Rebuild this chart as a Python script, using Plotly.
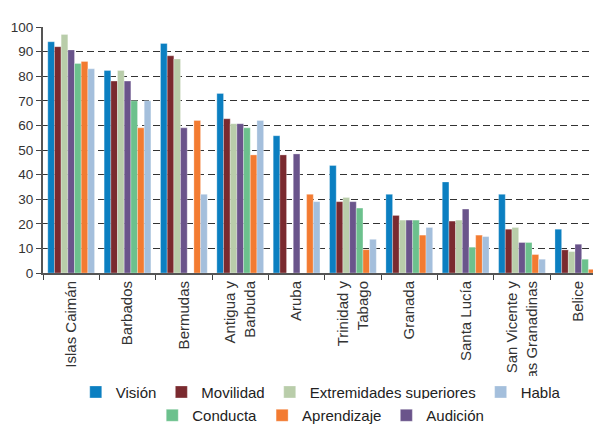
import plotly.graph_objects as go

paises = ["Islas Caimán", "Barbados", "Bermudas", "Antigua y<br>Barbuda", "Aruba",
          "Trinidad y<br>Tabago", "Granada", "Santa Lucía",
          "San Vicente y<br>las Granadinas", "Belice"]

vision = [94, 82.3, 93.3, 73, 55.8, 43.7, 32, 37, 32, 17.8]
movilidad = [92, 78, 88.3, 62.7, 48, 29, 23.4, 21.1, 17.8, 9.4]
extremidades = [97, 82.3, 87, 60.7, 0, 30.7, 21.5, 21.5, 18.5, 8.7]
audicion = [90.7, 78, 59, 60.7, 48.4, 29, 21.5, 26, 12.4, 11.7]
conducta = [85.2, 70, 0, 59, 0, 26.4, 21.5, 10.5, 12.4, 5.6]
aprendizaje = [86, 59, 62, 48, 32, 9.5, 15.4, 15.4, 7.5, 1.5]
habla = [83, 70, 32, 62, 29, 13.7, 18.5, 14.8, 5.6, 3]

# bar order inside each group, with legend row and rank
series = [
    ("Visión", vision, "#0b7fc1", "legend", 1),
    ("Movilidad", movilidad, "#7a2a2f", "legend", 2),
    ("Extremidades superiores", extremidades, "#b9cdaa", "legend", 3),
    ("Audición", audicion, "#6a548b", "legend2", 7),
    ("Conducta", conducta, "#6cc18d", "legend2", 5),
    ("Aprendizaje", aprendizaje, "#f37b31", "legend2", 6),
    ("Habla", habla, "#a4bfdc", "legend", 4),
]

fig = go.Figure()
for name, vals, color, leg, rank in series:
    fig.add_trace(go.Bar(
        x=paises, y=vals, name=name, legend=leg, legendrank=rank,
        marker=dict(color=color, line=dict(color="rgba(255,255,255,0.6)", width=0.5)),
    ))

font = "Liberation Sans, Arial, sans-serif"
fig.update_layout(
    width=593, height=424,
    margin=dict(l=43, r=0, t=27, b=151, autoexpand=False),
    paper_bgcolor="white", plot_bgcolor="white",
    font=dict(family=font, size=13, color="#333"),
    barmode="group", bargap=0.17, bargroupgap=0,
    legend=dict(orientation="h", x=0.505, xanchor="center", y=0.075, yanchor="middle",
                yref="container", font=dict(size=15, color="#222"),
                traceorder="normal", itemwidth=30),
    legend2=dict(orientation="h", x=0.505, xanchor="center", y=0.02, yanchor="middle",
                 yref="container", font=dict(size=15, color="#222"),
                 traceorder="normal", itemwidth=30),
)
fig.update_xaxes(
    type="category", range=[-0.5, 9.26], tickangle=-90, automargin=False,
    tickson="boundaries", ticks="outside", ticklen=5, tickcolor="#444",
    showline=True, linecolor="#555", linewidth=2,
    showgrid=False, tickfont=dict(size=15, color="#333"),
)
fig.update_yaxes(
    range=[0, 100], dtick=10, ticks="outside", ticklen=5, tickcolor="#444",
    showline=True, linecolor="#555", linewidth=2, automargin=False,
    showgrid=True, gridcolor="#333", gridwidth=1, griddash="7px,4px",
    zeroline=False, tickfont=dict(size=13.5, color="#333"),
)

# drop the default page margin so the figure sits at the window corner
fig.write_html("out.html", config={"displayModeBar": False},
               post_script="document.body.style.margin='0';")
